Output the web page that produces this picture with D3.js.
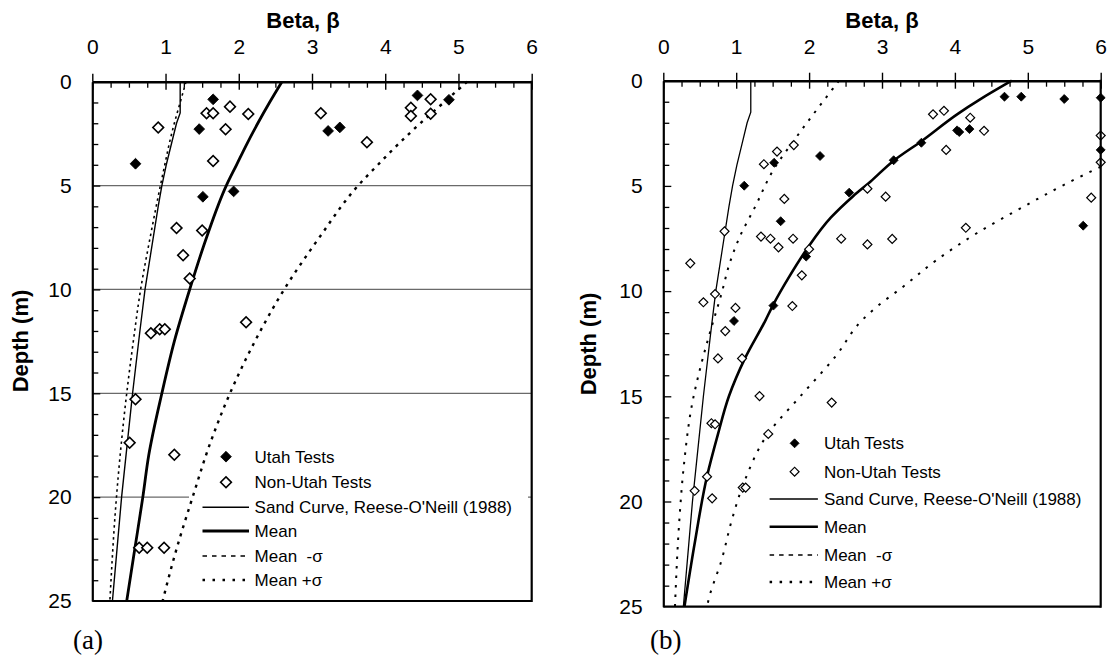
<!DOCTYPE html>
<html><head><meta charset="utf-8">
<script src="https://cdn.jsdelivr.net/npm/d3@7"></script>
<style>body{margin:0;background:#fff} svg{display:block}</style>
</head><body>
<svg id="c" width="1110" height="657"></svg>
<script>
// ---------- data ----------
const betaTicks = [0,1,2,3,4,5,6];
const depthTicks = [0,5,10,15,20,25];
const legendLabels = ["Utah Tests","Non-Utah Tests","Sand Curve, Reese-O'Neill (1988)","Mean","Mean\u00a0\u00a0-\u03c3","Mean +\u03c3"];

// points: [beta, depth (m)]
const aUtah = [[1.65,0.85],[1.46,2.28],[0.59,3.95],[1.51,5.54],[1.93,5.28],[4.44,0.66],[4.87,0.87],[3.22,2.37],[3.38,2.2]];
const aNonUtah = [[0.90,2.21],[1.56,1.52],[1.65,1.52],[1.88,1.20],[2.13,1.56],[1.82,2.29],[1.65,3.82],[1.15,7.04],[1.50,7.16],[1.24,8.36],[1.33,9.47],[3.12,1.52],[3.75,2.92],[4.35,1.25],[4.35,1.65],[4.62,0.85],[4.62,1.54],[2.10,11.58],[0.80,12.11],[0.92,11.92],[0.99,11.92],[0.59,15.29],[0.51,17.38],[1.12,17.96],[0.64,22.44],[0.75,22.44],[0.98,22.44]];
const bUtah = [[4.68,0.76],[4.91,0.76],[5.50,0.87],[6.0,0.81],[4.03,2.36],[4.06,2.44],[4.20,2.30],[3.54,2.95],[3.16,3.78],[2.55,5.32],[2.15,3.58],[1.52,3.90],[1.11,4.99],[1.61,6.68],[1.96,8.36],[1.51,10.69],[0.97,11.42],[6.0,3.29],[5.76,6.89]];
const bNonUtah = [[3.70,1.60],[3.85,1.43],[4.21,1.76],[4.40,2.38],[3.88,3.29],[6.0,2.61],[6.0,3.88],[5.87,5.56],[4.15,6.99],[2.80,5.13],[3.05,5.51],[3.14,7.52],[2.80,7.78],[2.44,7.51],[2.0,8.01],[1.90,9.25],[1.77,10.71],[1.78,7.51],[1.58,7.92],[1.47,7.51],[1.34,7.41],[1.66,5.62],[1.38,3.97],[1.56,3.37],[1.79,3.06],[0.84,7.16],[0.37,8.68],[0.71,10.14],[0.55,10.53],[0.99,10.80],[0.85,11.9],[0.75,13.2],[1.08,13.2],[1.32,14.99],[2.31,15.3],[0.66,16.28],[0.71,16.33],[1.44,16.79],[0.60,18.82],[0.43,19.49],[0.67,19.85],[1.09,19.34],[1.13,19.34]];

// curves
const sandDepth = [0,1.5,2,3,4,5,6,8,10,12,15,18,20,22,25];
const sandBeta  = [1.2,1.2,1.15,1.08,1.01,0.95,0.90,0.81,0.72,0.65,0.55,0.46,0.40,0.35,0.275];

const aMeanDepth = [0,1,2,3,4,5,7.5,10,12.5,15,18,20,22.5,25];
const aMean      = [2.59,2.42,2.26,2.11,1.97,1.83,1.56,1.33,1.12,0.95,0.77,0.69,0.58,0.47];
const aMinusDepth = [0,1,2,3,4,5,7.5,10,12.5,15,20,25];
const aMinus      = [1.28,1.20,1.12,1.05,0.99,0.93,0.79,0.66,0.56,0.47,0.33,0.24];
const aPlusDepth = [0,1,2,3,4,5,7.5,10,12.5,15,17.5,20,22.5,25];
const aPlus      = [5.12,4.80,4.48,4.18,3.90,3.63,3.10,2.62,2.22,1.88,1.60,1.37,1.15,0.96];

const bMeanDepth = [0,0.9,1.55,2.9,3.8,4.8,5.5,6.5,8,9.3,10.7,11.4,13.2,15,16.8,18.8,22,25];
const bMean      = [4.78,4.34,4.05,3.53,3.16,2.84,2.6,2.3,1.97,1.73,1.50,1.40,1.12,0.90,0.75,0.60,0.43,0.29];
const bMinusDepth = [0,0.36,2.66,4.24,5.99,7.41,8.68,10.1,12.09,13.75,15.1,18.35,20.9,25];
const bMinus      = [2.41,2.33,1.83,1.51,1.26,1.05,0.91,0.80,0.63,0.50,0.41,0.28,0.22,0.16];
const bPlusDepth = [4.09,4.96,5.99,7.25,8.52,9.79,10.74,11.37,13.07,15.0,16.76,18.98,20.88,22.78,24.68,25];
const bPlus      = [6.0,5.49,4.94,4.30,3.75,3.29,2.93,2.73,2.37,1.88,1.44,1.12,0.94,0.80,0.62,0.60];

// ---------- drawing ----------
const svg = d3.select("#c");
const SANS = "'Liberation Sans', Arial, Helvetica, sans-serif";
const SERIF = "'Liberation Serif', 'Times New Roman', serif";

function panel(cfg) {
  const g = svg.append("g");
  const x = d3.scaleLinear().domain([0,6]).range([cfg.left, cfg.right]);
  const y = d3.scaleLinear().domain([0,25]).range([cfg.top, cfg.bottom]);
  const clipId = "clip" + cfg.id;
  svg.append("clipPath").attr("id", clipId).append("rect")
    .attr("x", cfg.left).attr("y", cfg.top - 3)
    .attr("width", cfg.right - cfg.left + 1).attr("height", cfg.bottom - cfg.top + 3);

  // gridlines
  cfg.grid.forEach(d => {
    g.append("line").attr("x1", x(0)).attr("x2", x(6)).attr("y1", y(d)).attr("y2", y(d))
      .attr("stroke", "#6a6a6a").attr("stroke-width", 1.2);
  });
  // legend background
  if (cfg.legendBox) {
    g.append("rect").attr("x", cfg.legendBox[0]).attr("y", cfg.legendBox[1])
      .attr("width", cfg.legendBox[2]).attr("height", cfg.legendBox[3]).attr("fill", "#fff");
  }

  // curves
  const curves = g.append("g").attr("clip-path", `url(#${clipId})`);
  const line = d3.line().x(d => x(d[0])).y(d => y(d[1]));
  const smooth = d3.line().x(d => x(d[0])).y(d => y(d[1])).curve(d3.curveMonotoneY);
  curves.append("path").attr("d", line(d3.zip(sandBeta, sandDepth)))
    .attr("fill", "none").attr("stroke", "#000").attr("stroke-width", cfg.sandW);
  curves.append("path").attr("d", smooth(d3.zip(cfg.minus, cfg.minusDepth)))
    .attr("fill", "none").attr("stroke", "#000").attr("stroke-width", cfg.minusW).attr("stroke-dasharray", cfg.minusDash);
  curves.append("path").attr("d", smooth(d3.zip(cfg.plus, cfg.plusDepth)))
    .attr("fill", "none").attr("stroke", "#000").attr("stroke-width", cfg.plusW).attr("stroke-dasharray", cfg.plusDash);
  curves.append("path").attr("d", smooth(d3.zip(cfg.mean, cfg.meanDepth)))
    .attr("fill", "none").attr("stroke", "#000").attr("stroke-width", cfg.meanW);

  // points
  const sym = d3.symbol().type(d3.symbolSquare).size(cfg.symSize);
  g.append("g").selectAll("path").data(cfg.nonUtah).join("path")
    .attr("d", sym).attr("transform", d => `translate(${x(d[0])},${y(d[1])}) rotate(45)`)
    .attr("fill", "#fff").attr("stroke", "#000").attr("stroke-width", cfg.symStroke);
  g.append("g").selectAll("path").data(cfg.utah).join("path")
    .attr("d", sym).attr("transform", d => `translate(${x(d[0])},${y(d[1])}) rotate(45)`)
    .attr("fill", "#000").attr("stroke", "#000").attr("stroke-width", 0.8);

  // axes
  const top = g.append("g").attr("transform", `translate(0,${cfg.top})`);
  top.call(d3.axisTop(x).tickValues(betaTicks).tickSize(8).tickSizeOuter(0).tickPadding(cfg.xPad)
    .tickFormat(d3.format("d")));
  top.select(".domain").attr("stroke-width", 2.4);
  top.selectAll(".tick line").attr("stroke-width", 1.4);
  top.selectAll(".tick text").attr("font-size", 21).attr("font-family", SANS).attr("fill", "#000");
  const topIn = g.append("g").attr("transform", `translate(0,${cfg.top})`);
  topIn.call(d3.axisTop(x).tickValues(betaTicks).tickSize(-8).tickFormat(""));
  topIn.select(".domain").remove();
  topIn.selectAll(".tick line").attr("stroke-width", 1.4);
  const minorX = d3.range(0, 6.001, 0.25).filter(v => Math.abs(v - Math.round(v)) > 1e-6);
  const topMinor = g.append("g").attr("transform", `translate(0,${cfg.top})`);
  topMinor.call(d3.axisTop(x).tickValues(minorX).tickSize(-6).tickFormat(""));
  topMinor.select(".domain").remove();
  topMinor.selectAll(".tick line").attr("stroke-width", 1.3);

  const left = g.append("g").attr("transform", `translate(${cfg.left},0)`);
  left.call(d3.axisLeft(y).tickValues(depthTicks).tickSize(0).tickSizeOuter(0).tickPadding(cfg.yPad)
    .tickFormat(d3.format("d")));
  left.select(".domain").attr("stroke-width", 2.2);
  left.selectAll(".tick text").attr("font-size", 21).attr("font-family", SANS).attr("fill", "#000");
  const minorY = d3.range(1, 25, 1).filter(v => v % 5 !== 0);
  const leftMinor = g.append("g").attr("transform", `translate(${cfg.left},0)`);
  leftMinor.call(d3.axisLeft(y).tickValues(minorY).tickSize(-6).tickFormat(""));
  leftMinor.select(".domain").remove();
  leftMinor.selectAll(".tick line").attr("stroke-width", 1.3);
  const leftMajor = g.append("g").attr("transform", `translate(${cfg.left},0)`);
  leftMajor.call(d3.axisLeft(y).tickValues(depthTicks.slice(1, -1)).tickSize(-8).tickFormat(""));
  leftMajor.select(".domain").remove();
  leftMajor.selectAll(".tick line").attr("stroke-width", 1.3);

  g.append("line").attr("x1", x(6)).attr("x2", x(6)).attr("y1", y(0) - 1).attr("y2", y(25) + 1)
    .attr("stroke", "#000").attr("stroke-width", 2.2);
  g.append("line").attr("x1", x(0)).attr("x2", x(6)).attr("y1", y(25)).attr("y2", y(25))
    .attr("stroke", "#000").attr("stroke-width", 2.2);

  // titles
  g.append("text").attr("x", cfg.titleX).attr("y", 28).attr("text-anchor", "middle")
    .attr("font-family", SANS).attr("font-weight", "bold").attr("font-size", 22).text("Beta, \u03b2");
  g.append("text").attr("transform", `translate(${cfg.ylabX},${cfg.ylabY}) rotate(-90)`)
    .attr("text-anchor", "middle").attr("font-family", SANS).attr("font-weight", "bold")
    .attr("font-size", 22).text("Depth (m)");
  g.append("text").attr("x", cfg.tagX).attr("y", 649).attr("font-family", SERIF)
    .attr("font-size", 27).text(cfg.tag);

  // legend
  const L = cfg.legend;
  const lg = g.append("g");
  legendLabels.forEach((lab, i) => {
    const yy = L.rows[i];
    if (i < 2) {
      lg.append("path").attr("d", sym).attr("transform", `translate(${L.mx},${yy}) rotate(45)`)
        .attr("fill", i === 0 ? "#000" : "#fff").attr("stroke", "#000")
        .attr("stroke-width", i === 0 ? 0.8 : cfg.symStroke);
    } else {
      const st = [null, null,
        {w: cfg.sandW, dash: null},
        {w: cfg.meanW, dash: null},
        {w: 1.5, dash: "4.5,5"},
        {w: 2.3, dash: "2.5,7.5"}][i];
      lg.append("line").attr("x1", L.x1).attr("x2", L.x2).attr("y1", yy).attr("y2", yy)
        .attr("stroke", "#000").attr("stroke-width", st.w).attr("stroke-dasharray", st.dash);
    }
    lg.append("text").attr("x", L.tx).attr("y", yy).attr("dy", "0.35em")
      .attr("font-family", SANS).attr("font-size", 17).text(lab);
  });
}

panel({
  id: "a", left: 92.3, right: 531.7, top: 81.7, bottom: 601,
  grid: [5,10,15,20], legendBox: [189, 491, 339, 106],
  utah: aUtah, nonUtah: aNonUtah,
  mean: aMean, meanDepth: aMeanDepth, minus: aMinus, minusDepth: aMinusDepth, plus: aPlus, plusDepth: aPlusDepth,
  sandW: 1.4, meanW: 2.8, minusW: 1.6, minusDash: "2.5,3.5", plusW: 2.4, plusDash: "3,5.5",
  symSize: 58, symStroke: 1.6, xPad: 19.5, yPad: 20.6,
  titleX: 303, ylabX: 28, ylabY: 341, tagX: 73, tag: "(a)",
  legend: {mx: 226, tx: 254.6, x1: 202.5, x2: 249, rows: [456.7,482.3,507.3,531,556,580]}
});
panel({
  id: "b", left: 663.3, right: 1100.7, top: 80.7, bottom: 606.7,
  grid: [], legendBox: null,
  utah: bUtah, nonUtah: bNonUtah,
  mean: bMean, meanDepth: bMeanDepth, minus: bMinus, minusDepth: bMinusDepth, plus: bPlus, plusDepth: bPlusDepth,
  sandW: 1.3, meanW: 2.6, minusW: 2.0, minusDash: "2.5,7", plusW: 2.0, plusDash: "2.5,7.5",
  symSize: 40, symStroke: 1.2, xPad: 18.5, yPad: 20.6,
  titleX: 882, ylabX: 595.5, ylabY: 344, tagX: 650, tag: "(b)",
  legend: {mx: 794.6, tx: 824, x1: 769.6, x2: 817.9, rows: [443.3,471.7,499,526.7,555,582]}
});
</script>
</body></html>
